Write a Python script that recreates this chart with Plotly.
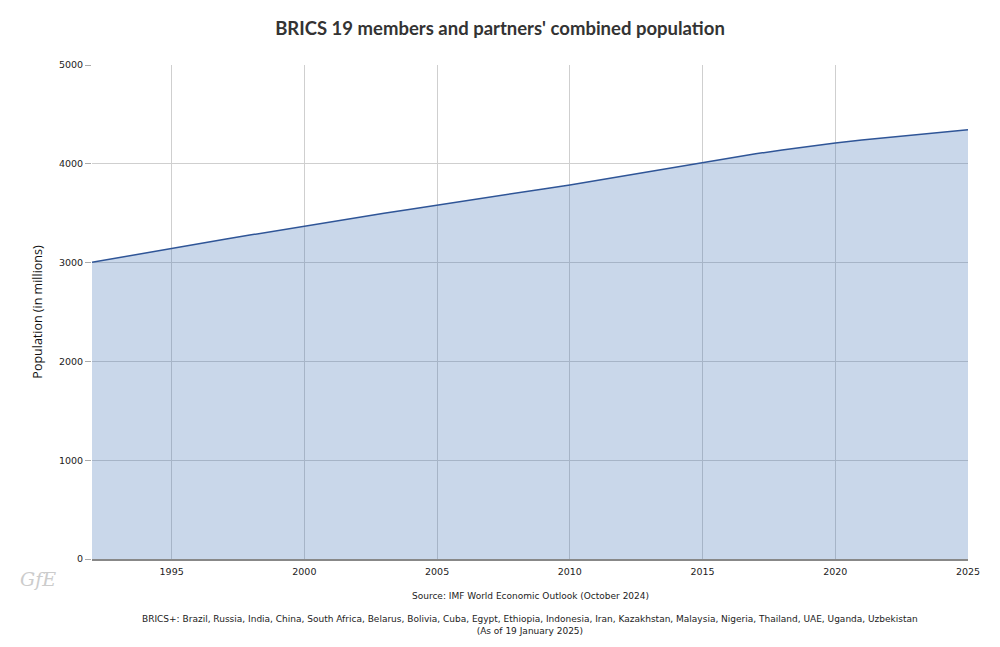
import plotly.graph_objects as go

years = list(range(1992, 2026))
population = [3003, 3051, 3098, 3145, 3191, 3236, 3281, 3326, 3370, 3413,
              3456, 3499, 3541, 3583, 3624, 3664, 3704, 3745, 3785, 3831,
              3877, 3923, 3969, 4015, 4058, 4101, 4140, 4177, 4211, 4240,
              4267, 4293, 4319, 4345]
x_ticks = [1995, 2000, 2005, 2010, 2015, 2020, 2025]
y_ticks = [0, 1000, 2000, 3000, 4000, 5000]

title = "BRICS 19 members and partners' combined population"
y_title = "Population (in millions)"
source = "Source: IMF World Economic Outlook (October 2024)"
note = ("BRICS+: Brazil, Russia, India, China, South Africa, Belarus, Bolivia, Cuba, Egypt, "
        "Ethiopia, Indonesia, Iran, Kazakhstan, Malaysia, Nigeria, Thailand, UAE, Uganda, Uzbekistan"
        "<br>(As of 19 January 2025)")

fig = go.Figure()
fig.add_trace(go.Scatter(
    x=years, y=population, mode="lines", fill="tozeroy",
    line=dict(color="#2f5597", width=1.5),
    fillcolor="rgba(60,110,180,0.28)",
    hoverinfo="x+y", showlegend=False,
))

fig.update_layout(
    width=1000, height=647,
    paper_bgcolor="white", plot_bgcolor="white",
    margin=dict(l=84, r=40, t=57, b=96),
    title=dict(text="<b>" + title + "</b>", x=0.492, xanchor="center", y=0.969, yanchor="middle",
               font=dict(family="Lato", size=18.5, color="#333333")),
    font=dict(family="DejaVu Sans", size=10, color="#222222"),
    xaxis=dict(range=[1992, 2025], tickvals=x_ticks, showgrid=True, gridcolor="#cfcfcf",
               gridwidth=1, showline=True, linecolor="#888888", linewidth=1.5,
               ticks="outside", ticklen=3, tickcolor="rgba(0,0,0,0)",
               tickfont=dict(family="DejaVu Sans", size=9.5, color="#222222"),
               zeroline=False, fixedrange=True),
    yaxis=dict(range=[0, 5000], tickvals=y_ticks, showgrid=True, gridcolor="#cfcfcf",
               gridwidth=1, showline=False, ticks="outside", ticklen=6, tickcolor="#aaaaaa",
               tickfont=dict(family="DejaVu Sans", size=9.5, color="#222222"),
               title=dict(text=y_title, font=dict(family="Open Sans", size=12.5, color="#111111"),
                          standoff=13),
               zeroline=False, fixedrange=True),
    annotations=[
        dict(text=source, x=0.5, y=-0.075, xref="paper", yref="paper", xanchor="center",
             yanchor="middle", showarrow=False,
             font=dict(family="DejaVu Sans", size=9, color="#222222")),
        dict(text=note, x=0.5, y=-0.133, xref="paper", yref="paper", xanchor="center",
             yanchor="middle", showarrow=False, align="center",
             font=dict(family="DejaVu Sans", size=9, color="#222222")),
        dict(text="<i>GfE</i>", xref="paper", yref="paper", x=-0.085, y=-0.04,
             xanchor="left", yanchor="middle", showarrow=False,
             font=dict(family="DejaVu Serif", size=19, color="#cccccc")),
    ],
)

fig.write_html("out.html")
